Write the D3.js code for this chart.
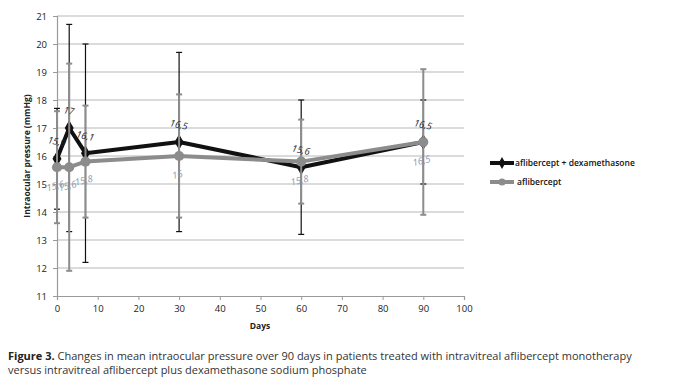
<!DOCTYPE html>
<html>
<head>
<meta charset="utf-8">
<style>
  body { margin: 0; background: #fff; }
  svg { display: block; }
</style>
</head>
<body>
<svg width="673" height="388" font-family="'Open Sans', 'Liberation Sans', sans-serif"></svg>
<script src="https://d3js.org/d3.v7.min.js"></script>
<script>

var days = [0, 3, 7, 30, 60, 90];
var comboIop = [15.9, 17, 16.1, 16.5, 15.6, 16.5];     // aflibercept + dexamethasone
var comboSd = [1.8, 3.7, 3.9, 3.2, 2.4, 1.5];
var monoIop = [15.6, 15.6, 15.8, 16, 15.8, 16.5];      // aflibercept
var monoSd = [2.0, 3.7, 2.0, 2.2, 1.5, 2.6];
var xTicks = [0, 10, 20, 30, 40, 50, 60, 70, 80, 90, 100];
var yTicks = [11, 12, 13, 14, 15, 16, 17, 18, 19, 20, 21];
var seriesNames = ["aflibercept + dexamethasone", "aflibercept"];

var svg = d3.select("svg");

var x = d3.scaleLinear().domain([0, 100]).range([57, 464]);
var y = d3.scaleLinear().domain([11, 21]).range([296, 16]);

var comma = function(v) { return String(v).replace(".", ","); };

// grid
svg.append("g").selectAll("line")
  .data(yTicks.slice(1))
  .enter().append("line")
    .attr("x1", x(0)).attr("x2", x(100))
    .attr("y1", function(d) { return y(d); })
    .attr("y2", function(d) { return y(d); })
    .attr("stroke", "#b8b8b8").attr("stroke-width", 1.2);

// axes
var xAxis = svg.append("g")
    .attr("transform", "translate(0," + y(11) + ")")
    .call(d3.axisBottom(x).tickValues(xTicks).tickSize(4).tickPadding(5));
var yAxis = svg.append("g")
    .attr("transform", "translate(" + x(0) + ",0)")
    .call(d3.axisLeft(y).tickValues(yTicks).tickSize(4).tickPadding(6));
[xAxis, yAxis].forEach(function(a) {
  a.select(".domain").attr("stroke", "#9a9a9a").attr("stroke-width", 1.2);
  a.selectAll(".tick line").attr("stroke", "#9a9a9a");
  a.selectAll("text").attr("fill", "#222").attr("font-size", 9.5)
    .attr("font-family", "'Open Sans', sans-serif");
});

svg.append("text")
    .attr("x", 260).attr("y", 329)
    .attr("text-anchor", "middle")
    .attr("font-size", 8.5).attr("font-weight", "bold").attr("fill", "#222")
    .text("Days");
svg.append("text")
    .attr("transform", "translate(30,156) rotate(-90)")
    .attr("text-anchor", "middle")
    .attr("font-size", 8.5).attr("font-weight", "bold").attr("fill", "#222")
    .text("Intraocular pressure (mmHg)");

var line = d3.line()
    .x(function(d) { return x(d[0]); })
    .y(function(d) { return y(d[1]); });

function drawSeries(vals, sd, color, lineW, errW, marker) {
  var pts = days.map(function(d, i) { return [d, vals[i], sd[i]]; });
  var g = svg.append("g");
  g.append("path")
      .datum(pts)
      .attr("d", line)
      .attr("fill", "none")
      .attr("stroke", color)
      .attr("stroke-width", lineW)
      .attr("stroke-linejoin", "round");
  var eb = g.selectAll(".err").data(pts).enter().append("g");
  eb.append("line")
      .attr("x1", function(d) { return x(d[0]); })
      .attr("x2", function(d) { return x(d[0]); })
      .attr("y1", function(d) { return y(d[1] + d[2]); })
      .attr("y2", function(d) { return y(d[1] - d[2]); })
      .attr("stroke", color).attr("stroke-width", errW);
  [1, -1].forEach(function(s) {
    eb.append("line")
        .attr("x1", function(d) { return x(d[0]) - 3; })
        .attr("x2", function(d) { return x(d[0]) + 3; })
        .attr("y1", function(d) { return y(d[1] + s * d[2]); })
        .attr("y2", function(d) { return y(d[1] + s * d[2]); })
        .attr("stroke", color).attr("stroke-width", errW);
  });
  g.selectAll(".mk").data(pts).enter().append("path")
      .attr("transform", function(d) { return "translate(" + x(d[0]) + "," + y(d[1]) + ")"; })
      .attr("d", marker)
      .attr("fill", color);
  return pts;
}

var diamond = d3.symbol().type(d3.symbolDiamond).size(70)();
var circle = d3.symbol().type(d3.symbolCircle).size(80)();

var comboPts = drawSeries(comboIop, comboSd, "#111", 4, 1.2, diamond);
var monoPts = drawSeries(monoIop, monoSd, "#8c8c8c", 4, 2, circle);

// data labels
svg.append("g").selectAll("text")
  .data(comboPts)
  .enter().append("text")
    .attr("transform", function(d) { return "translate(" + (x(d[0]) - 1) + "," + (y(d[1]) - 14) + ") rotate(12)"; })
    .attr("text-anchor", "middle")
    .attr("font-size", 9.5).attr("font-style", "italic").attr("fill", "#222")
    .text(function(d) { return comma(d[1]); });
svg.append("g").selectAll("text")
  .data(monoPts)
  .enter().append("text")
    .attr("transform", function(d) { return "translate(" + (x(d[0]) - 1) + "," + (y(d[1]) + 22) + ") rotate(-14)"; })
    .attr("text-anchor", "middle")
    .attr("font-size", 9.5).attr("font-style", "italic").attr("fill", "#8d9aae")
    .text(function(d) { return comma(d[1]); });

// legend
var legend = svg.append("g").attr("transform", "translate(490,163)");
var legendStyles = [
  { color: "#111", marker: d3.symbol().type(d3.symbolDiamond).size(40)() },
  { color: "#8c8c8c", marker: d3.symbol().type(d3.symbolCircle).size(40)() }
];
seriesNames.forEach(function(name, i) {
  var row = legend.append("g").attr("transform", "translate(0," + (i * 19) + ")");
  row.append("line").attr("x1", 0).attr("x2", 24)
      .attr("stroke", legendStyles[i].color).attr("stroke-width", 4);
  row.append("path").attr("transform", "translate(12,0)")
      .attr("d", legendStyles[i].marker).attr("fill", legendStyles[i].color);
  row.append("text").attr("x", i ? 27 : 25).attr("y", 3)
      .attr("font-size", 8.5).attr("font-weight", 600).attr("fill", "#111")
      .text(name);
});

// caption
var cap = svg.append("text").attr("x", 8).attr("y", 360)
    .attr("font-size", 11).attr("fill", "#333");
cap.append("tspan").attr("font-weight", "bold").attr("fill", "#222").text("Figure 3. ");
cap.append("tspan").text("Changes in mean intraocular pressure over 90 days in patients treated with intravitreal aflibercept monotherapy");
svg.append("text").attr("x", 8).attr("y", 374)
    .attr("font-size", 11).attr("fill", "#333")
    .text("versus intravitreal aflibercept plus dexamethasone sodium phosphate");

</script>
</body>
</html>
